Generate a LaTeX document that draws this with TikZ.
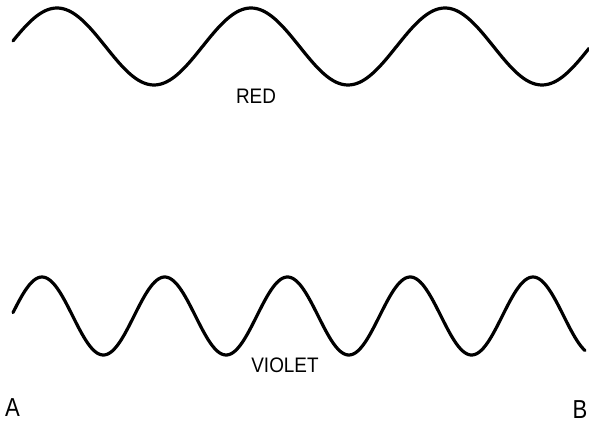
\documentclass[tikz,border=0pt]{standalone}
\usepackage{fontspec}
\setmainfont{Liberation Sans}
\begin{document}
\begin{tikzpicture}[x=1pt,y=1pt,
  wave/.style={line width=3.2pt,line cap=round,line join=round},
  lbl/.style={font=\fontsize{21}{21}\selectfont,inner sep=0pt,xscale=0.9},
  endlbl/.style={font=\fontsize{26}{26}\selectfont,inner sep=0pt,xscale=0.85}]
\useasboundingbox (0,0) rectangle (589,423);
\fill[white] (0,0) rectangle (589,423);
% red wave
\draw[wave] plot[domain=13:589,samples=240,smooth] (\x,{376.5+38.5*sin(((\x-8.5)/194)*360)});
% violet wave
\draw[wave] plot[domain=13:585,samples=300,smooth] (\x,{107+39*sin(((\x-11.3)/122.75)*360)});
\node[lbl] (red) at (256,327) {RED};
\node[lbl] (violet) at (285,57.5) {VIOLET};
\node[endlbl] (a) at (12.5,15) {A};
\node[endlbl] (b) at (580,13) {B};
\end{tikzpicture}
\end{document}
